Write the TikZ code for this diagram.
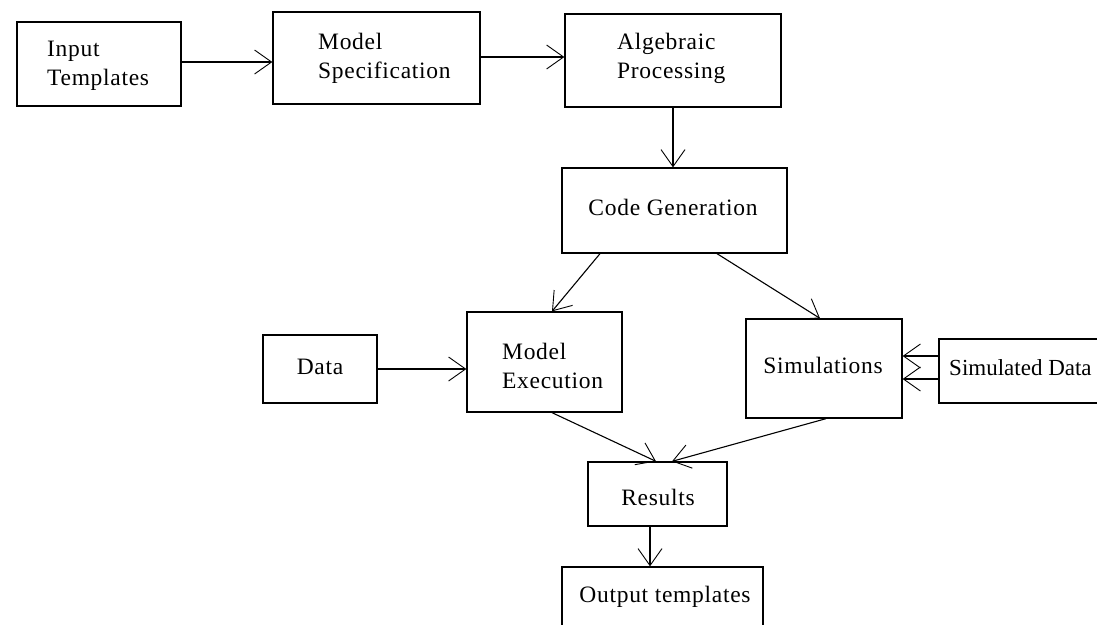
\documentclass[tikz,border=0pt]{standalone}
\usepackage{fontspec}
\setmainfont{Liberation Serif}[LetterSpace=3]
\newfontfamily\plainserif{Liberation Serif}
\usetikzlibrary{arrows.meta}
\begin{document}
\begin{tikzpicture}[x=1pt,y=-1pt,
  box/.style={draw,line width=1.3pt,inner sep=0pt,minimum width=#1},
  lbl/.style={font=\fontsize{23.5}{29}\selectfont,inner sep=0pt,align=left},
  arr/.style={line width=1.1pt,-{Straight Barb[length=17pt,width=24pt,line width=0.9pt]}}]
\useasboundingbox (0,0) rectangle (1097,624);
\clip (0,0) rectangle (1097,624);
\fill[white] (0,0) rectangle (1097,624);
% boxes
\node[box=164pt,minimum height=84pt] (in) at (99,64) {};
\node[box=207pt,minimum height=92pt] (ms) at (376.5,58) {};
\node[box=216pt,minimum height=93pt] (ap) at (673,60.5) {};
\node[box=225pt,minimum height=85pt] (cg) at (674.5,210.5) {};
\node[box=155pt,minimum height=100pt] (me) at (544.5,362) {};
\node[box=156pt,minimum height=99pt] (sim) at (824,368.5) {};
\node[box=170pt,minimum height=64pt] (sd) at (1024,371) {};
\node[box=114pt,minimum height=68pt] (data) at (320,369) {};
\node[box=139pt,minimum height=64pt] (res) at (657.5,494) {};
\node[box=201pt,minimum height=80pt] (out) at (662.5,607) {};
% texts
\node[lbl,anchor=west] (tin) at (47,66) {Input\\Templates};
\node[lbl,anchor=west] (tms) at (318,58) {Model\\Specification};
\node[lbl,anchor=west] (tap) at (617,58) {Algebraic\\Processing};
\node[lbl] (tcg) at (673,207) {Code Generation};
\node[lbl,anchor=west] (tme) at (502,366) {Model\\Execution};
\node[lbl] (tsim) at (823,365) {Simulations};
\node[lbl] (tdata) at (320,367) {Data};
\node[lbl,anchor=west,font=\plainserif\fontsize{23}{29}\selectfont] (tsd) at (949,368) {Simulated Data};
\node[lbl] (tres) at (658,497) {Results};
\node[lbl] (tout) at (665,597) {Output templates};
% connectors
\draw[arr] ([yshift=2pt]in.east) -- ([yshift=2pt]ms.west |- in.east);
\draw[arr] ([yshift=1pt]ms.east) -- ([yshift=1pt]ap.west |- ms.east);
\draw[arr] (ap.south) -- (ap.south |- cg.north);
\draw[arr] ([xshift=-74.5pt]cg.south) -- ([xshift=7.5pt]me.north);
\draw[arr] ([xshift=42.5pt]cg.south) -- ([xshift=-4pt]sim.north);
\draw[arr] (data.east) -- (me.west |- data.east);
\draw[arr] ([yshift=15pt]sd.west) -- ([yshift=15pt]sim.east |- sd.west);
\draw[arr] ([yshift=-8pt]sd.west) -- ([yshift=-8pt]sim.east |- sd.west);
\draw[arr] ([xshift=7.5pt]me.south) -- ([xshift=-1.5pt]res.north);
\draw[arr] ([xshift=2pt]sim.south) -- ([xshift=14.5pt]res.north);
\draw[arr] ([xshift=-7.5pt]res.south) -- ([xshift=-7.5pt]res.south |- out.north);
\end{tikzpicture}
\end{document}
